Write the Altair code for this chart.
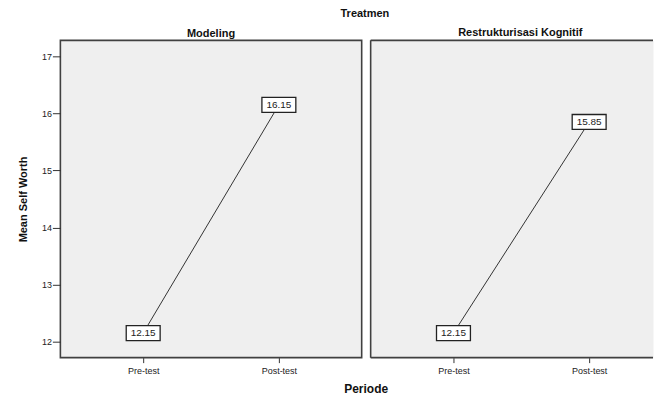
import altair as alt
import pandas as pd

treatments = ["Modeling", "Restrukturisasi Kognitif"]
periods = ["Pre-test", "Post-test"]
modeling_means = [12.15, 16.15]
restrukturisasi_means = [12.15, 15.85]
y_ticks = [12, 13, 14, 15, 16, 17]

FONT = "Liberation Sans"
PANEL_H = 318
LEFT_W = 302
RIGHT_W = 283
FILL = "#efefef"
FRAME = "#404040"

y_scale = alt.Scale(domain=[11.72, 17.28], nice=False, zero=False)
x_scale = alt.Scale(type="point", range=[83, 219], padding=0)


def make_df(vals):
    return pd.DataFrame({"Periode": periods, "Mean": vals})


def panel(vals, title, show_y, width, title_dx):
    df = make_df(vals)
    if show_y:
        y_axis = alt.Axis(values=y_ticks, tickSize=8, tickColor="#333", tickWidth=1,
                          domain=False, grid=False, labelFontSize=9, labelPadding=1,
                          labelColor="#222", labelFont=FONT,
                          title="Mean Self Worth", titleFont=FONT, titleFontSize=11,
                          titleFontWeight="bold", titleColor="#111", titlePadding=12.5)
        x_axis = alt.Axis(labelAngle=0, tickSize=5, tickColor="#333", domain=False,
                          grid=False, labelFontSize=9, labelPadding=3.5, labelFont=FONT,
                          labelColor="#222", title="Periode", titleFont=FONT,
                          titleFontSize=12, titleFontWeight="bold", titleColor="#111",
                          titleX=306, titleY=26, titleAlign="center")
    else:
        y_axis = None
        x_axis = alt.Axis(labelAngle=0, tickSize=5, tickColor="#333", domain=False,
                          grid=False, labelFontSize=9, labelPadding=3.5, labelFont=FONT,
                          labelColor="#222", title=None)
    base = alt.Chart(df).encode(
        x=alt.X("Periode:N", sort=periods, scale=x_scale, axis=x_axis),
        y=alt.Y("Mean:Q", scale=y_scale, axis=y_axis),
    )
    line = base.mark_line(color="#333", strokeWidth=1)
    box = base.mark_rect(width=34, height=15, fill="white", stroke="#222", strokeWidth=1.3)
    txt = base.mark_text(font=FONT, fontSize=10, color="#222").encode(
        text=alt.Text("Mean:Q", format=".2f"))
    layers = [line, box, txt]
    if show_y:
        view = alt.ViewBackground(fill=FILL, stroke=FRAME, strokeWidth=1.6)
    else:
        view = alt.ViewBackground(fill=FILL, strokeOpacity=0)
        frame_df = pd.DataFrame({"k": [0]})
        fr = alt.Chart(frame_df)
        top = fr.mark_rule(color=FRAME, strokeWidth=1.6).encode(
            x=alt.value(0), x2=alt.value(width), y=alt.value(0))
        bottom = fr.mark_rule(color=FRAME, strokeWidth=1.6).encode(
            x=alt.value(0), x2=alt.value(width), y=alt.value(PANEL_H))
        left = fr.mark_rule(color=FRAME, strokeWidth=1.6).encode(
            x=alt.value(0), y=alt.value(0), y2=alt.value(PANEL_H))
        layers = layers + [top, bottom, left]
    return alt.layer(*layers).properties(
        width=width, height=PANEL_H, view=view,
        title=alt.TitleParams(title, font=FONT, fontSize=11, fontWeight="bold",
                              color="#111", offset=1.5, dx=title_dx),
    )


left_panel = panel(modeling_means, treatments[0], True, LEFT_W, 0)
right_panel = panel(restrukturisasi_means, treatments[1], False, RIGHT_W, 8.5)

chart = alt.hconcat(left_panel, right_panel, spacing=9, bounds="flush").properties(
    title=alt.TitleParams("Treatmen", font=FONT, fontSize=11, fontWeight="bold",
                          color="#111", anchor="middle", offset=8, dx=29.5),
    padding={"left": 8.5, "top": -1, "right": 0, "bottom": -1},
).resolve_scale(x="independent", y="independent").configure(
    background="white"
)

chart.save("out.html", embed_options={"renderer": "svg", "actions": False})
